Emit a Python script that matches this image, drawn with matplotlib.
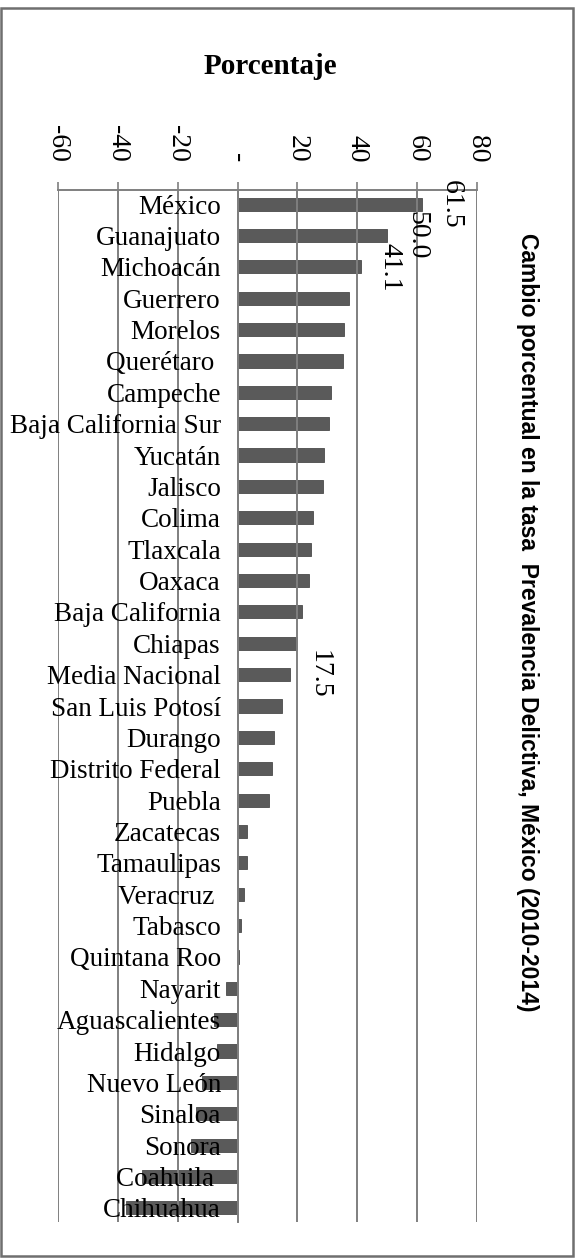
import numpy as np
import matplotlib.pyplot as plt
from matplotlib.patches import Rectangle

# Datos: cambio porcentual en la tasa de prevalencia delictiva 2010-2014
estados = ['México', 'Guanajuato', 'Michoacán', 'Guerrero', 'Morelos', 'Querétaro ',
           'Campeche', 'Baja California Sur', 'Yucatán', 'Jalisco', 'Colima', 'Tlaxcala',
           'Oaxaca', 'Baja California', 'Chiapas', 'Media Nacional', 'San Luis Potosí',
           'Durango', 'Distrito Federal', 'Puebla', 'Zacatecas', 'Tamaulipas', 'Veracruz ',
           'Tabasco', 'Quintana Roo', 'Nayarit', 'Aguascalientes', 'Hidalgo', 'Nuevo León',
           'Sinaloa', 'Sonora', 'Coahuila ', 'Chihuahua']
cambio = [61.5, 50.0, 41.1, 37.1, 35.5, 35.1, 31.2, 30.4, 29.0, 28.6, 25.1, 24.7,
          24.0, 21.6, 19.9, 17.5, 14.9, 12.3, 11.5, 10.5, 3.0, 3.0, 2.2, 1.0, 0.6,
          -4.0, -7.9, -6.8, -11.8, -14.0, -15.7, -31.8, -37.3]
# Solo algunas barras llevan etiqueta
etiquetas = {'México': '61.5', 'Guanajuato': '50.0', 'Michoacán': '41.1', 'Media Nacional': '17.5'}
xticks = [-60, -40, -20, 0, 20, 40, 60, 80]
xtick_labels = ['-60', '-40', '-20', '-', '20', '40', '60', '80']

W, H = 582, 1258
fig = plt.figure(figsize=(W / 100, H / 100), dpi=100)
ax = fig.add_axes([58 / W, 1 - 1222 / H, 419 / W, 1032 / H])

serif = ['Liberation Serif', 'DejaVu Serif']
gris = '#7f7f7f'

y = np.arange(len(estados))
# barras debajo de los textos del eje
ax.barh(y, cambio, height=0.42, color='#5a5a5a', edgecolor='#4a4a4a', linewidth=0.6, zorder=1)

ax.set_xlim(-60, 80)
ax.set_ylim(len(estados) - 0.55, -0.45)

# Eje de porcentaje arriba, etiquetas giradas
ax.xaxis.tick_top()
ax.set_xticks(xticks)
ax.set_xticklabels(xtick_labels, rotation=-90, family=serif, fontsize=20)
ax.tick_params(axis='x', direction='out', length=6, width=1.2, color=gris, pad=14)
ax.grid(axis='x', color=gris, linewidth=1.4)

# Eje de categorias en el cero
ax.spines['left'].set_position(('data', 0))
ax.spines['left'].set_color(gris)
ax.spines['left'].set_linewidth(1.4)
ax.set_yticks(y)
ax.set_yticklabels(estados, family=serif, fontsize=19.5)
ax.tick_params(axis='y', length=0, pad=12)

for s in ['right', 'bottom']:
    ax.spines[s].set_visible(False)
ax.spines['top'].set_color(gris)
ax.spines['top'].set_linewidth(1.4)

for i, (nombre, v) in enumerate(zip(estados, cambio)):
    if nombre in etiquetas:
        ax.annotate(etiquetas[nombre], (v, i), xytext=(21, 0), textcoords='offset points',
                    rotation=-90, ha='center', va='center', family=serif, fontsize=20)

fig.text(270 / W, 1 - 66 / H, 'Porcentaje', family=serif, fontsize=21, fontweight='bold',
         ha='center', va='center')
fig.text(527 / W, 1 - 622 / H,
         'Cambio porcentual en la tasa  Prevalencia Delictiva, México (2010-2014)',
         family=['Liberation Sans', 'DejaVu Sans'], fontsize=16.5, fontweight='bold',
         rotation=-90, ha='center', va='center')

# Marco exterior de la imagen
fig.patches.append(Rectangle((1 / W, 1 - 1256 / H), 572 / W, 1248 / H, transform=fig.transFigure,
                             fill=False, edgecolor='#6f6f6f', linewidth=1.8))

plt.savefig('out.png', dpi=100)
plt.close()
